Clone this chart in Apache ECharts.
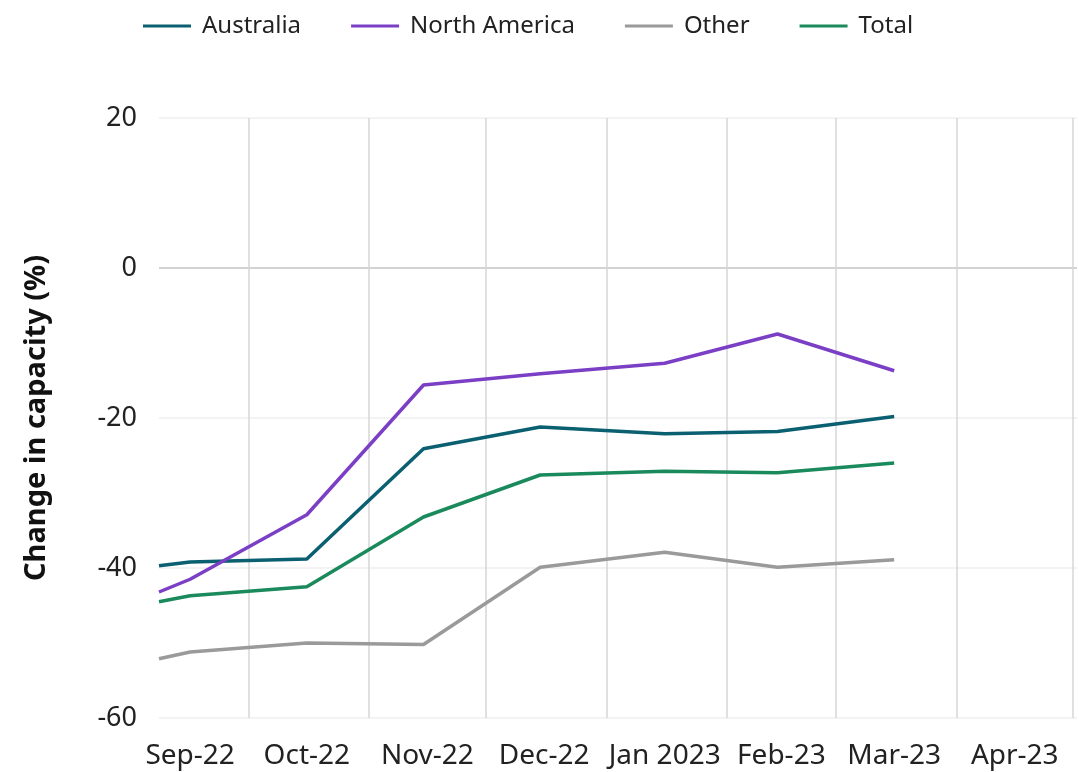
<!DOCTYPE html>
<html>
<head>
    <meta charset="UTF-8">
    <title>Change in capacity</title>
    <script src="https://cdn.jsdelivr.net/npm/echarts@6/dist/echarts.min.js"></script>
    <style>
        html, body { margin: 0; padding: 0; background: #fff; }
    </style>
</head>
<body>
    <div id="main" style="width: 1079px;height:772px;"></div>
    <script type="text/javascript">
        // dates of the observations
        var dates = ['2022-09-08', '2022-09-16', '2022-10-16', '2022-11-15',
                     '2022-12-15', '2023-01-16', '2023-02-14', '2023-03-16'];

        var australia    = [-39.7, -39.2, -38.8, -24.1, -21.2, -22.1, -21.8, -19.8];
        var northAmerica = [-43.2, -41.5, -32.9, -15.6, -14.1, -12.7, -8.8, -13.7];
        var other        = [-52.1, -51.2, -50.0, -50.2, -39.9, -37.9, -39.9, -38.9];
        var total        = [-44.5, -43.7, -42.5, -33.2, -27.6, -27.1, -27.3, -26.0];

        // month boundaries (grid lines) and label positions (mid month)
        var monthStarts = ['2022-10-01', '2022-11-01', '2022-12-01', '2023-01-01',
                           '2023-02-01', '2023-03-01', '2023-04-01', '2023-05-01'];
        var labelDates  = ['2022-09-16', '2022-10-16', '2022-11-16', '2022-12-16',
                           '2023-01-16', '2023-02-15', '2023-03-16', '2023-04-16'];
        var xLabels     = ['Sep-22', 'Oct-22', 'Nov-22', 'Dec-22',
                           'Jan 2023', 'Feb-23', 'Mar-23', 'Apr-23'];
        var xRange      = ['2022-09-08', '2023-05-02'];
        var yTicks      = [-60, -40, -20, 0, 20];

        // dates -> timestamps (the x axis is a linear axis in ms)
        function ts(d) { return Date.parse(d + 'T00:00:00Z'); }

        function pairs(values) {
            return values.map(function (v, i) { return [ts(dates[i]), v]; });
        }

        var labelByTime = {};
        labelDates.forEach(function (d, i) { labelByTime[ts(d)] = xLabels[i]; });

        var font = 'Noto Sans';
        var myChart = echarts.init(document.getElementById('main'));

        function lineSeries(name, color, values) {
            return {
                name: name,
                type: 'line',
                data: pairs(values),
                symbol: 'none',
                lineStyle: { color: color, width: 3.5 },
                itemStyle: { color: color }
            };
        }

        var option = {
            animation: false,
            textStyle: { fontFamily: font },
            legend: {
                top: 9,
                left: 138,
                icon: 'rect',
                itemWidth: 48,
                itemHeight: 3,
                itemGap: 50,
                textStyle: { fontSize: 24, color: '#222', fontFamily: font, padding: [0, 0, 0, 6] },
                data: ['Australia', 'North America', 'Other', 'Total']
            },
            grid: {
                left: 159,
                right: 2,
                top: 118,
                bottom: 54
            },
            xAxis: {
                type: 'value',
                min: ts(xRange[0]),
                max: ts(xRange[1]),
                axisLine: { show: false },
                axisTick: { show: false, customValues: monthStarts.map(ts) },
                splitLine: {
                    show: true,
                    lineStyle: { color: '#d6d6d6', width: 1.5 }
                },
                axisLabel: {
                    customValues: labelDates.map(ts),
                    margin: 24,
                    fontSize: 28,
                    color: '#222',
                    fontFamily: font,
                    formatter: function (value) {
                        return labelByTime[value] || '';
                    }
                }
            },
            yAxis: {
                type: 'value',
                min: yTicks[0],
                max: yTicks[yTicks.length - 1],
                interval: 20,
                name: 'Change in capacity (%)',
                nameLocation: 'middle',
                nameGap: 108,
                nameTextStyle: { fontSize: 29, fontWeight: 'bold', color: '#111', fontFamily: font },
                axisLine: { show: false },
                axisTick: { show: false },
                axisLabel: { fontSize: 27, color: '#222', margin: 22, fontFamily: font },
                splitLine: {
                    lineStyle: {
                        color: yTicks.map(function (t) { return t === 0 ? '#c4c4c4' : '#efefef'; }),
                        width: 1.5
                    }
                }
            },
            series: [
                lineSeries('Australia', '#0a6070', australia),
                lineSeries('North America', '#7b3fc6', northAmerica),
                lineSeries('Other', '#9a9a9a', other),
                lineSeries('Total', '#1a8a5c', total)
            ]
        };

        myChart.setOption(option);
    </script>
</body>
</html>
